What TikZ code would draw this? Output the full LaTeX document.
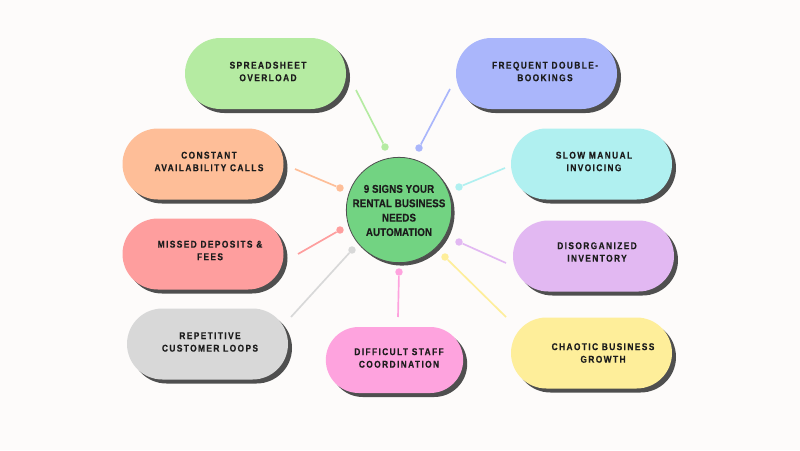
\documentclass[tikz,border=0pt]{standalone}
\usepackage{fontspec}
\usepackage{xcolor}
\usepackage{tikz}
\usetikzlibrary{
  positioning,
  shadows,
  shapes.misc
}
\setmainfont{Liberation Sans}
\newfontfamily\pillfont[LetterSpace=14,FakeStretch=0.85,BoldFeatures={FakeBold=0.35}]{Liberation Sans}
\newfontfamily\hubfont[LetterSpace=1,FakeStretch=0.87,BoldFeatures={FakeBold=0.3}]{Liberation Sans}

\definecolor{paper}{HTML}{FDFBFA}
\definecolor{shade}{HTML}{4F4F4F}
\definecolor{ink}{HTML}{1C1C1C}
\definecolor{cgreen}{HTML}{B5EBA2}
\definecolor{cblue}{HTML}{AAB6FB}
\definecolor{corange}{HTML}{FEBE98}
\definecolor{ccyan}{HTML}{B0F0F0}
\definecolor{cred}{HTML}{FE9E9E}
\definecolor{cpurple}{HTML}{E2B8F2}
\definecolor{cgray}{HTML}{D8D8D8}
\definecolor{cpink}{HTML}{FEA3DE}
\definecolor{cyellow}{HTML}{FEEE9A}
\definecolor{chub}{HTML}{72D382}

\tikzstyle{pill}=[rounded rectangle, minimum width=120.75pt, minimum height=53.25pt, inner sep=0pt,
  copy shadow={shadow xshift=3pt, shadow yshift=-3pt, fill=shade, draw=none}]
\tikzstyle{pilltext}=[align=center, text=ink, font=\pillfont\bfseries\fontsize{7.4}{9.4}\selectfont]
\tikzstyle{dot}=[circle, inner sep=0pt, minimum size=5.6pt]
\tikzstyle{spoke}=[line width=1.25pt]

\begin{document}
\begin{tikzpicture}[x=0.75pt, y=-0.75pt]
        \useasboundingbox[fill=paper] (0,0) rectangle (800,450);

        % pills
        \node[pill, fill=cgreen] (spreadsheet) at (265.5,73.5) {};
        \node[pill, fill=cblue] (bookings) at (536.5,73.5) {};
        \node[pill, fill=corange] (calls) at (203,164) {};
        \node[pill, fill=ccyan] (invoicing) at (591.5,164) {};
        \node[pill, fill=cred] (deposits) at (203,254) {};
        \node[pill, fill=cpurple] (inventory) at (593.5,256) {};
        \node[pill, fill=cgray] (loops) at (207.5,344) {};
        \node[pill, fill=cpink, minimum width=103pt, minimum height=49.5pt] (staff) at (394.5,360) {};
        \node[pill, fill=cyellow] (growth) at (591.5,353) {};

        % pill texts
        \node[pilltext] (spreadsheettext) at (268,71.5) {SPREADSHEET\\OVERLOAD};
        \node[pilltext] (bookingstext) at (545,71.5) {FREQUENT DOUBLE-\\BOOKINGS};
        \node[pilltext] (callstext) at (209,161.5) {CONSTANT\\AVAILABILITY CALLS};
        \node[pilltext] (invoicingtext) at (594,161.5) {SLOW MANUAL\\INVOICING};
        \node[pilltext] (depositstext) at (210,250.5) {MISSED DEPOSITS \&\\FEES};
        \node[pilltext] (inventorytext) at (597,252) {DISORGANIZED\\INVENTORY};
        \node[pilltext] (loopstext) at (210,342) {REPETITIVE\\CUSTOMER LOOPS};
        \node[pilltext] (stafftext) at (399,358) {DIFFICULT STAFF\\COORDINATION};
        \node[pilltext] (growthtext) at (603,353) {CHAOTIC BUSINESS\\GROWTH};

        % centre circle
        \node[circle, fill=chub, draw=shade, line width=0.6pt, minimum size=79pt, inner sep=0pt,
          copy shadow={shadow xshift=2.2pt, shadow yshift=-2.2pt, fill=shade, draw=none}] (hub) at (399,210) {};
        \node[align=center, text=ink, font=\hubfont\bfseries\fontsize{8.4}{10.8}\selectfont] (hubtext) at (399,210.5)
          {9 SIGNS YOUR\\RENTAL BUSINESS\\NEEDS\\AUTOMATION};

        % dots
        \node[dot, fill=cgreen] (dotA) at (385,147) {};
        \node[dot, fill=cblue] (dotB) at (419,148) {};
        \node[dot, fill=corange] (dotC) at (340,188) {};
        \node[dot, fill=ccyan] (dotD) at (459,187) {};
        \node[dot, fill=cred] (dotE) at (340,230) {};
        \node[dot, fill=cpurple] (dotF) at (459,242) {};
        \node[dot, fill=cgray] (dotG) at (352,250) {};
        \node[dot, fill=cpink] (dotH) at (399,272) {};
        \node[dot, fill=cyellow] (dotI) at (445,257) {};

        % free line ends
        \coordinate (endA) at (356,90);
        \coordinate (endB) at (450,89);
        \coordinate (endC) at (295,169);
        \coordinate (endD) at (505,168);
        \coordinate (endE) at (298,254);
        \coordinate (endF) at (506,263);
        \coordinate (endG) at (291,317);
        \coordinate (endH) at (398,317);
        \coordinate (endI) at (506,317);

        % spokes
        \draw[spoke, cgreen] (endA) -- (dotA);
        \draw[spoke, cblue] (endB) -- (dotB);
        \draw[spoke, corange] (endC) -- (dotC);
        \draw[spoke, ccyan] (endD) -- (dotD);
        \draw[spoke, cred] (endE) -- (dotE);
        \draw[spoke, cpurple] (endF) -- (dotF);
        \draw[spoke, cgray] (endG) -- (dotG);
        \draw[spoke, cpink] (endH) -- (dotH);
        \draw[spoke, cyellow] (endI) -- (dotI);
      \end{tikzpicture}
\end{document}
